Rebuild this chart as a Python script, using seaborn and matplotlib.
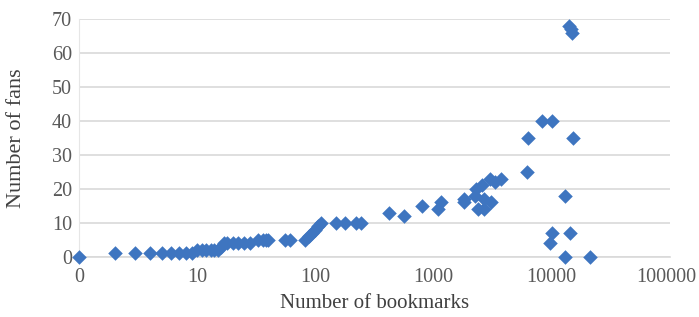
import numpy as np
import pandas as pd
import seaborn as sns
import matplotlib.pyplot as plt
from matplotlib.transforms import ScaledTranslation

# Values
bookmarks = [1, 2, 3, 4, 5, 6, 7, 8, 9, 10, 11, 12, 13, 14, 15,
             16, 17, 18, 20, 22, 25, 28, 33, 36, 38, 40, 55, 61,
             82, 88, 94, 100, 106, 112, 150, 180, 220, 245,
             420, 560, 800, 1100, 1150, 1800, 1800,
             2250, 2300, 2400, 2600, 2700, 2700, 3100, 3000, 3300, 3700,
             6200, 6300, 8300, 10000, 15300, 13000, 10000, 9700, 14300,
             13000, 21000, 14000, 14500, 15000]
fans = [0, 1, 1, 1, 1, 1, 1, 1, 1, 2, 2, 2, 2, 2, 2,
        3, 4, 4, 4, 4, 4, 4, 5, 5, 5, 5, 5, 5,
        5, 6, 7, 8, 9, 10, 10, 10, 10, 10,
        13, 12, 15, 14, 16, 16, 17,
        18, 20, 14, 21, 14, 17, 16, 23, 22, 23,
        25, 35, 40, 40, 35, 18, 7, 4, 7,
        0, 0, 68, 67, 66]

xticks = [1, 10, 100, 1000, 10000, 100000]
xtick_labels = ['0', '10', '100', '1000', '10000', '100000']

df = pd.DataFrame({'bookmarks': bookmarks, 'fans': fans})

sns.set_style('white')
plt.rcParams['font.family'] = ['Liberation Serif', 'DejaVu Serif']

fig = plt.figure(figsize=(6.99, 3.17), dpi=100)
ax = fig.add_axes([0.113, 0.19, 0.845, 0.75])

sns.scatterplot(data=df, x='bookmarks', y='fans', marker='D', s=55,
                color='#3e75c0', edgecolor='#3e75c0', linewidth=0,
                clip_on=False, zorder=3, ax=ax)

ax.set_xscale('log')
ax.set_xlim(1, 100000)
ax.set_ylim(0, 70)
ax.set_xticks(xticks)
ax.set_xticklabels(xtick_labels)
ax.xaxis.set_minor_locator(plt.NullLocator())
ax.set_yticks(range(0, 71, 10))

ax.yaxis.grid(True, color='#d9d9d9', linewidth=1.2)
ax.xaxis.grid(False)
for side in ['top', 'right']:
    ax.spines[side].set_visible(False)
ax.spines['bottom'].set_color('#d9d9d9')
ax.spines['left'].set_color('#e6e6e6')
ax.spines['bottom'].set_linewidth(1.2)

ax.tick_params(axis='both', length=0, labelsize=14.5, labelcolor='#595959')
ax.tick_params(axis='x', pad=8)
ax.tick_params(axis='y', pad=5)
# nudge the last label so it stays inside the figure, like the reference
last = ax.get_xticklabels()[-1]
last.set_horizontalalignment('right')
last.set_transform(last.get_transform() + ScaledTranslation(0.27, 0, fig.dpi_scale_trans))

ax.set_xlabel('Number of bookmarks', fontsize=15, color='#404040', labelpad=5)
ax.set_ylabel('Number of fans', fontsize=16, color='#404040')
ax.yaxis.set_label_coords(-0.09, 0.5)

fig.savefig('out.png', dpi=100)
